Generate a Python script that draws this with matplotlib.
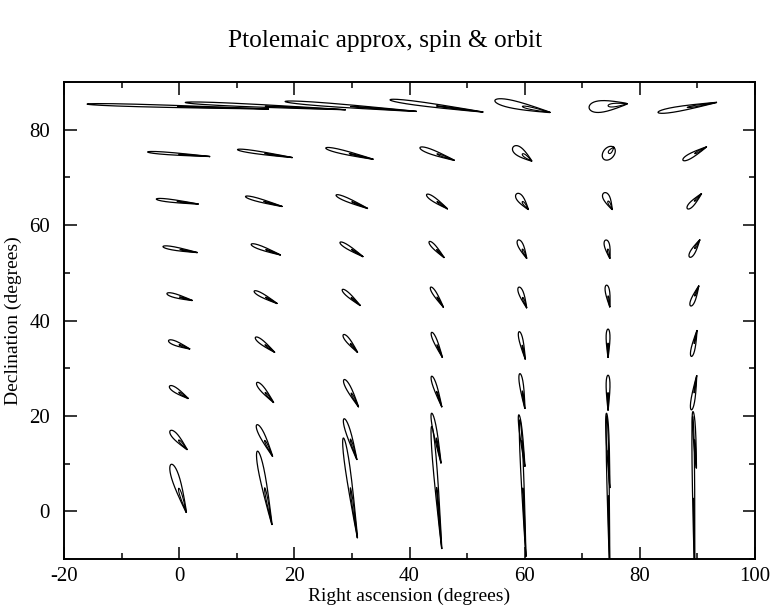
import numpy as np
import matplotlib.pyplot as plt
from matplotlib.ticker import MultipleLocator

plt.rcParams['font.family'] = ['Liberation Serif', 'DejaVu Serif']
plt.rcParams['axes.unicode_minus'] = False

# Each loop: blunt end (ra_a, dec_a), pointed end (ra_b, dec_b), width in pixels
ra_a = [
    -15.99, 1.06, 18.40, 36.62, 54.83, 71.19, 83.16,      # dec 85
    -5.48, 10.13, 25.46, 41.82, 58.00, 73.74, 87.49,      # dec 75
    -3.97, 11.52, 27.25, 42.98, 58.60, 73.79, 88.26,      # dec 65
    -2.81, 12.51, 27.94, 43.43, 58.87, 74.09, 88.66,      # dec 55
    -2.12, 13.03, 28.34, 43.68, 58.99, 74.21, 88.83,      # dec 45
    -1.84, 13.25, 28.52, 43.85, 59.05, 74.48, 88.95,      # dec 35
    -1.67, 13.50, 28.64, 43.85, 59.17, 74.48, 88.95,      # dec 25
    -1.54, 13.50, 28.64, 43.85, 58.99, 74.21, 89.23,      # dec 15
    -1.37, 13.60, 28.52, 43.85, 59.17, 74.26, 89.18,      # dec 5
]
dec_a = [
    85.37, 85.71, 85.91, 86.27, 86.12, 84.61, 83.63,
    75.33, 75.83, 76.16, 76.24, 76.37, 73.82, 73.61,
    65.46, 66.00, 66.29, 66.41, 66.56, 66.76, 63.44,
    55.50, 55.98, 56.39, 56.54, 56.87, 56.87, 53.28,
    45.66, 46.16, 46.49, 46.99, 46.99, 47.41, 43.05,
    35.79, 36.47, 37.03, 37.51, 37.66, 38.20, 32.47,
    26.24, 26.99, 27.61, 28.32, 28.86, 28.53, 21.27,
    16.91, 18.15, 19.40, 20.56, 20.23, 20.56, 20.91,
    9.85, 12.61, 15.37, 17.80, 19.19, 19.88, 19.88,
]
ra_b = [
    15.46, 28.81, 41.13, 52.70, 64.37, 77.78, 93.29,
    5.27, 19.57, 33.62, 47.72, 61.20, 75.47, 91.55,
    3.26, 17.83, 32.68, 46.56, 60.61, 75.18, 90.69,
    3.09, 17.54, 31.88, 45.98, 60.33, 74.78, 90.39,
    2.22, 16.96, 31.41, 45.86, 60.33, 74.78, 90.22,
    1.80, 16.55, 30.95, 45.69, 60.09, 74.48, 89.92,
    1.53, 16.37, 31.12, 45.59, 60.03, 74.48, 89.87,
    1.35, 16.20, 30.84, 45.46, 60.03, 74.78, 89.82,
    1.23, 16.10, 30.95, 45.59, 60.21, 74.78, 89.52,
]
dec_b = [
    84.34, 84.19, 83.84, 83.71, 83.63, 85.44, 85.71,
    74.38, 74.17, 73.82, 73.61, 73.46, 76.31, 76.37,
    64.42, 63.92, 63.51, 63.44, 63.30, 63.30, 66.56,
    54.25, 53.76, 53.42, 53.22, 53.07, 53.07, 56.87,
    44.21, 43.59, 43.17, 42.84, 42.70, 42.90, 47.20,
    34.05, 33.36, 33.36, 32.32, 31.97, 32.32, 37.86,
    23.67, 22.84, 21.95, 21.95, 21.60, 21.27, 28.38,
    12.97, 11.58, 10.89, 10.19, 9.50, 5.00, 9.15,
    -0.19, -2.74, -5.50, -7.78, -9.38, -13.30, -14.40,
]
width_px = [
    2.5, 3.0, 3.5, 4.0, 8.0, 12.0, 5.0,
    2.5, 3.0, 4.0, 5.0, 9.0, 11.0, 5.0,
    3.0, 3.5, 4.0, 4.5, 7.0, 7.0, 5.0,
    3.5, 4.0, 4.0, 4.0, 5.5, 5.5, 5.0,
    4.0, 4.0, 4.0, 4.0, 5.0, 4.5, 4.5,
    4.5, 4.5, 4.5, 4.0, 4.0, 4.0, 4.0,
    5.0, 5.0, 5.0, 4.0, 4.0, 4.0, 4.0,
    6.0, 5.5, 5.0, 4.0, 3.0, 3.0, 3.0,
    8.0, 6.0, 5.0, 4.0, 3.0, 2.5, 2.5,
]

fig = plt.figure(figsize=(7.71, 6.1), dpi=100)
ax = fig.add_axes([64 / 771, 51 / 610, 691 / 771, 477 / 610])
ax.set_xlim(-20, 100)
ax.set_ylim(-10, 90)

# pixel size of one data unit, so loop widths stay perpendicular on screen
p0 = ax.transData.transform((0, 0))
p1 = ax.transData.transform((1, 1))
sx, sy = p1[0] - p0[0], p1[1] - p0[1]

t = np.linspace(0, 2 * np.pi, 200)


def lens(xa, ya, xb, yb, w, point):
    # closed loop from blunt end a to pointed end b, built in screen pixels
    ax_, ay_ = xa * sx, ya * sy
    bx_, by_ = xb * sx, yb * sy
    cx, cy = (ax_ + bx_) / 2, (ay_ + by_) / 2
    dx, dy = (bx_ - ax_) / 2, (by_ - ay_) / 2
    L = np.hypot(dx, dy)
    nx, ny = -dy / L, dx / L
    along = np.cos(t)
    across = np.sin(t) * ((1 - point) + point * (1 - np.cos(t)) / 1.3)
    px = cx + along * dx + across * nx * w / 2
    py = cy + along * dy + across * ny * w / 2
    return px / sx, py / sy


for xa, ya, xb, yb, w in zip(ra_a, dec_a, ra_b, dec_b, width_px):
    length = np.hypot((xb - xa) * sx, (yb - ya) * sy)
    point = 0.0 if w / length > 0.45 else 0.7
    x, y = lens(xa, ya, xb, yb, w, point)
    ax.plot(x, y, color='black', lw=0.9)
    # inner turn of the loop, from the middle to the pointed end
    xm, ym = (xa + xb) / 2, (ya + yb) / 2
    x, y = lens(xm, ym, xb, yb, w * 0.3, 0.7)
    ax.plot(x, y, color='black', lw=0.8)

ax.xaxis.set_major_locator(MultipleLocator(20))
ax.xaxis.set_minor_locator(MultipleLocator(10))
ax.yaxis.set_major_locator(MultipleLocator(20))
ax.yaxis.set_minor_locator(MultipleLocator(10))
ax.tick_params(which='both', direction='in', top=True, right=True,
               labelsize=15, width=1.1)
ax.tick_params(which='major', length=9, pad=6)
ax.tick_params(which='minor', length=4.5)
ax.tick_params(axis='y', pad=10)
for s in ax.spines.values():
    s.set_linewidth(1.4)

ax.set_xlabel('Right ascension (degrees)', fontsize=14, labelpad=1)
ax.set_ylabel('Declination (degrees)', fontsize=14, labelpad=5)
fig.text(0.5, 0.933, 'Ptolemaic approx, spin & orbit', ha='center',
         va='center', fontsize=18.3)

fig.savefig('out.png', dpi=100)
